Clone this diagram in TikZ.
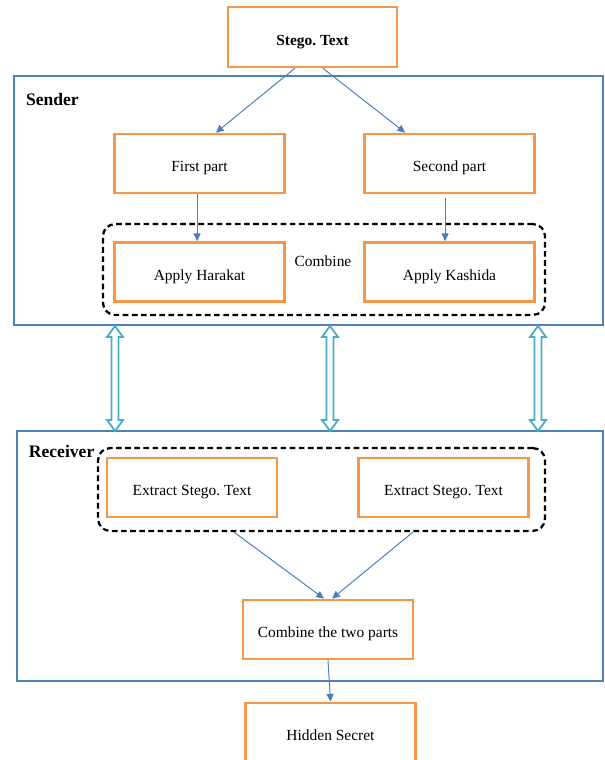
\documentclass[tikz,border=0pt]{standalone}
\usepackage{fontspec}
\setmainfont{Liberation Serif}
\usetikzlibrary{positioning,arrows.meta,calc}

\definecolor{boxorange}{RGB}{247,150,70}
\definecolor{frameblue}{RGB}{79,129,189}
\definecolor{linkblue}{RGB}{74,126,187}
\definecolor{pipecyan}{RGB}{75,172,198}

\frenchspacing
\begin{document}
\begin{tikzpicture}[x=0.25cm, y=-0.25cm,
    stage/.style={draw=boxorange, line width=1.8pt, fill=white,
      minimum width=4.25cm, minimum height=1.48cm, inner sep=0pt,
      text height=14pt, text depth=2.5pt,
      font=\fontsize{11}{13}\selectfont},
    frame/.style={draw=frameblue, line width=1.6pt, inner sep=0pt},
    group/.style={draw=black, line width=1.6pt, dash pattern=on 4pt off 2.5pt,
      rounded corners=0.3cm, inner sep=0pt},
    link/.style={draw=linkblue, line width=0.7pt, -{Triangle[length=5.5pt,width=5pt]}},
    pipe/.style={draw=pipecyan, line width=1.3pt, fill=white, line join=miter},
    side/.style={anchor=north west, inner sep=0pt, font=\fontsize{12.5}{15}\selectfont\bfseries}]
  \useasboundingbox (0,0) rectangle (60.4,76);
  \clip (0,0) rectangle (60.4,76);
%  \draw[help lines] (0,0) grid (60,76);

  % the two blue frames
  \node[frame, minimum width=14.72cm, minimum height=6.22cm] (sender) at (30.85,20.05) {};
  \node[frame, minimum width=14.65cm, minimum height=6.25cm] (receiver) at (31.0,55.6) {};
  \node[side] (sendlbl) at ([xshift=0.32cm,yshift=-0.45cm]sender.north west) {Sender};
  \node[side] (recvlbl) at ([xshift=0.32cm,yshift=-0.37cm]receiver.north west) {Receiver};

  % dashed groups
  \node[group, minimum width=11.05cm, minimum height=2.27cm] (sendgrp) at (32.4,26.95) {};
  \node[group, minimum width=11.17cm, minimum height=2.07cm] (recvgrp) at (32.15,48.95) {};

  % sender side
  \node[stage, minimum width=4.22cm, minimum height=1.5cm, font=\fontsize{11}{13}\selectfont\bfseries]
    (stego) at (31.25,3.7) {Stego. Text};
  \node[stage] (first)   at (19.95,16.35) {First part};
  \node[stage] (second)  at (44.95,16.35) {Second part};
  \node[stage] (harakat) at (19.95,27.2) {Apply Harakat};
  \node[stage] (kashida) at (44.95,27.2) {Apply Kashida};
  \node[inner sep=0pt, font=\fontsize{11}{13}\selectfont] (combine) at (32.3,26.1) {Combine};

  % receiver side
  \node[stage] (extA)   at (19.2,48.75)  {Extract Stego. Text};
  \node[stage] (extB)   at (44.35,48.75) {Extract Stego. Text};
  \node[stage] (merge)  at (32.8,62.95)  {Combine the two parts};
  \node[stage] (secret) at (33.05,73.25) {Hidden Secret};

  \draw[link] ([xshift=-0.44cm]stego.south) -- ([xshift=0.41cm]first.north);
  \draw[link] ([xshift=0.26cm]stego.south) -- ([xshift=-1.11cm]second.north);
  \draw[link] ([xshift=-0.06cm]first.south) -- ([xshift=-0.06cm]harakat.north);
  \draw[link] ([xshift=-0.11cm,yshift=-0.08cm]second.south) -- ([xshift=-0.11cm]kashida.north);

  \draw[link] ([xshift=-2.19cm]recvgrp.south) -- ([xshift=-0.1cm]merge.north);
  \draw[link] ([xshift=2.29cm]recvgrp.south) -- ([xshift=0.1cm]merge.north);
  \draw[link] (merge.south) -- (secret.north);

  % hollow double arrows between the frames
  \foreach \px in {11.5,33.0,53.8}
    \draw[pipe] (\px,32.6) -- ++(0.8,1.1) -- ++(-0.45,0) -- (\px+0.35,42.0)
      -- ++(0.45,0) -- (\px,43.1) -- ++(-0.8,-1.1) -- ++(0.45,0)
      -- (\px-0.35,33.7) -- ++(-0.45,0) -- cycle;
\end{tikzpicture}
\end{document}
